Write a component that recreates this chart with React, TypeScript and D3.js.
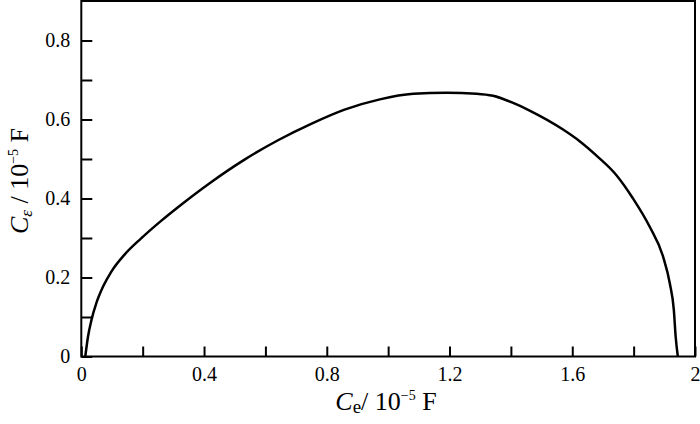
import React, { useEffect, useRef } from "react";
import * as d3 from "d3";

// curve: Ce (x, 10^-5 F) vs C_eps (y, 10^-5 F)
const ceValues = [
  0.013, 0.0218, 0.033, 0.049, 0.071, 0.098, 0.141, 0.195, 0.261, 0.315,
  0.424, 0.532, 0.641, 0.749, 0.858, 0.973, 1.082, 1.19, 1.288, 1.342, 1.407,
  1.461, 1.57, 1.624, 1.679, 1.744, 1.798, 1.852, 1.896, 1.918, 1.931, 1.937,
  1.944,
];
const cepsValues = [
  0, 0.05, 0.092, 0.135, 0.177, 0.215, 0.258, 0.299, 0.344, 0.378,
  0.442, 0.4985, 0.5475, 0.589, 0.625, 0.651, 0.665, 0.668, 0.6655, 0.66, 0.642,
  0.6225, 0.5745, 0.545, 0.5085, 0.459, 0.4, 0.329, 0.253, 0.185, 0.118, 0.05,
  0,
];

const xTicks = [0, 0.2, 0.4, 0.6, 0.8, 1, 1.2, 1.4, 1.6, 1.8, 2];
const xTickLabels = ["0", "", "0.4", "", "0.8", "", "1.2", "", "1.6", "", "2"];
const yTicks = [0, 0.1, 0.2, 0.3, 0.4, 0.5, 0.6, 0.7, 0.8];
const yTickLabels = ["0", "", "0.2", "", "0.4", "", "0.6", "", "0.8"];

const FONT = "'Liberation Serif', 'Times New Roman', serif";

export default function App() {
  const ref = useRef<SVGSVGElement>(null);

  useEffect(() => {
    const width = 700;
    const height = 424;
    const left = 81.3;
    const right = 695;
    const top = 1;
    const bottom = 356.5;

    const svg = d3.select(ref.current);
    svg.selectAll("*").remove();
    svg.attr("width", width).attr("height", height);

    const x = d3.scaleLinear().domain([0, 2]).range([left, right]);
    const y = d3.scaleLinear().domain([0, 0.9]).range([bottom, top]);

    // ticks (inward)
    svg.append("g")
      .attr("transform", `translate(0,${bottom})`)
      .call(
        d3.axisBottom(x)
          .tickValues(xTicks)
          .tickSize(-10)
          .tickPadding(10)
          .tickFormat((d, i) => xTickLabels[i])
      )
      .call(g => g.select(".domain").remove())
      .call(g => g.selectAll(".tick line").attr("stroke", "#000").attr("stroke-width", 2))
      .call(g => g.selectAll(".tick text")
        .attr("fill", "#000")
        .style("font-family", FONT)
        .style("font-size", "20px"));

    svg.append("g")
      .attr("transform", `translate(${left},0)`)
      .call(
        d3.axisLeft(y)
          .tickValues(yTicks)
          .tickSize(-11)
          .tickPadding(11)
          .tickFormat((d, i) => yTickLabels[i])
      )
      .call(g => g.select(".domain").remove())
      .call(g => g.selectAll(".tick line").attr("stroke", "#000").attr("stroke-width", 2))
      .call(g => g.selectAll(".tick text")
        .attr("fill", "#000")
        .style("font-family", FONT)
        .style("font-size", "20px"));

    // frame
    svg.append("rect")
      .attr("x", left)
      .attr("y", top)
      .attr("width", right - left)
      .attr("height", bottom - top)
      .attr("fill", "none")
      .attr("stroke", "#000")
      .attr("stroke-width", 2);

    // curve
    const pts: [number, number][] = ceValues.map((v, i) => [v, cepsValues[i]]);
    const line = d3.line<[number, number]>()
      .x(d => x(d[0]))
      .y(d => y(d[1]))
      .curve(d3.curveMonotoneX);

    svg.append("path")
      .attr("d", line(pts))
      .attr("fill", "none")
      .attr("stroke", "#000")
      .attr("stroke-width", 2.5);

    // x label
    const xl = svg.append("text")
      .attr("x", 386)
      .attr("y", 410)
      .attr("text-anchor", "middle")
      .style("font-family", FONT)
      .style("font-size", "26px")
      .attr("fill", "#000");
    xl.append("tspan").style("font-style", "italic").text("C");
    xl.append("tspan").attr("dy", 3).style("font-size", "19px").text("e");
    xl.append("tspan").attr("dy", -3).text("/ 10");
    xl.append("tspan").attr("dy", -10).style("font-size", "14px").text("−5");
    xl.append("tspan").attr("dy", 10).text(" F");

    // y label
    const yl = svg.append("text")
      .attr("transform", "translate(28,181) rotate(-90)")
      .attr("text-anchor", "middle")
      .style("font-family", FONT)
      .style("font-size", "26px")
      .attr("fill", "#000");
    yl.append("tspan").style("font-style", "italic").text("C");
    yl.append("tspan").attr("dy", 4).style("font-size", "17px").style("font-style", "italic").text("ε");
    yl.append("tspan").attr("dy", -4).text(" / 10");
    yl.append("tspan").attr("dy", -10).style("font-size", "14px").text("−5");
    yl.append("tspan").attr("dy", 10).text(" F");
  }, []);

  return (
    <svg
      ref={ref}
      style={{ position: "absolute", left: 0, top: 0, background: "#fff" }}
    />
  );
}
